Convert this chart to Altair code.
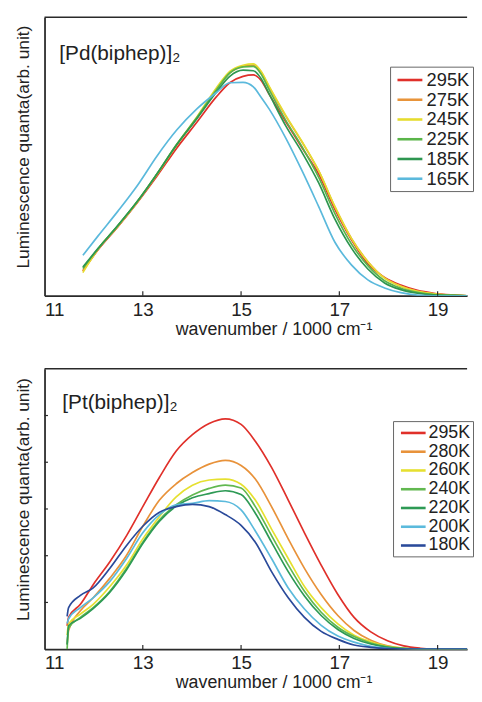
import altair as alt
import pandas as pd

# ---------------- top panel: [Pd(biphep)]2 ----------------
PD_LABELS = ["295K", "275K", "245K", "225K", "185K", "165K"]
PD_COLORS = ["#e0302a", "#e8943a", "#e6dc2e", "#5ab54a", "#2e9650", "#5bb9dc"]
PD_X = [11.78, 12.09, 12.49, 12.89, 13.29, 13.69, 14.10, 14.50, 14.77, 15.04, 15.25,
        15.40, 15.57, 15.91, 16.24, 16.58, 16.91, 17.25, 17.58, 17.92, 18.25, 18.59,
        18.92, 19.30, 19.60]
PD_295 = [9.0, 16.5, 24.7, 33.5, 43.0, 53.0, 62.3, 71.5, 76.5, 78.8, 79.3, 77.5, 72.4,
          62.5, 53.1, 43.7, 31.0, 20.0, 11.5, 6.6, 3.8, 1.9, 0.9, 0.3, 0.0]
PD_275 = [8.8, 16.6, 24.9, 33.7, 43.5, 54.0, 63.8, 74.0, 80.0, 82.4, 82.8, 80.5, 75.0,
          64.5, 55.2, 44.8, 31.9, 20.5, 12.3, 6.4, 3.4, 1.6, 0.7, 0.2, 0.0]
PD_245 = [8.3, 16.8, 25.0, 33.8, 43.7, 54.3, 64.2, 74.7, 80.6, 82.8, 83.3, 80.8, 75.3,
          64.8, 55.4, 44.9, 32.0, 20.4, 12.2, 6.3, 3.4, 1.6, 0.7, 0.2, 0.0]
PD_225 = [9.8, 16.9, 25.1, 33.9, 43.8, 54.4, 64.0, 74.0, 80.0, 82.2, 82.4, 79.8, 74.0,
          63.0, 53.5, 42.5, 29.5, 18.5, 10.8, 5.4, 2.7, 1.2, 0.4, 0.1, 0.0]
PD_185 = [10.3, 17.0, 25.2, 33.9, 43.8, 54.2, 63.6, 73.2, 78.8, 81.0, 80.8, 78.2, 72.5,
          61.0, 51.5, 40.5, 27.5, 17.0, 9.6, 4.6, 2.2, 0.9, 0.3, 0.1, 0.0]
PD_165 = [14.5, 21.5, 30.3, 39.6, 50.2, 59.5, 67.1, 73.0, 76.5, 76.6, 75.0, 71.5, 67.1,
          56.6, 44.9, 32.0, 19.2, 11.0, 5.7, 2.8, 1.1, 0.2, 0.0, 0.0, 0.0]
PD_SERIES = [PD_295, PD_275, PD_245, PD_225, PD_185, PD_165]

# ---------------- bottom panel: [Pt(biphep)]2 ----------------
PT_LABELS = ["295K", "280K", "260K", "240K", "220K", "200K", "180K"]
PT_COLORS = ["#e0302a", "#e8923a", "#e6e030", "#62b850", "#2e9a55", "#5bbadc", "#2a4a9a"]
PT_X = [11.46, 11.49, 11.73, 11.99, 12.33, 12.67, 13.00, 13.34, 13.68, 14.01, 14.35,
        14.68, 15.00, 15.29, 15.62, 15.96, 16.29, 16.63, 16.97, 17.30, 17.64, 17.98,
        18.31, 18.65, 19.00, 19.60]
PT_295 = [0.50, 0.68, 0.96, 1.38, 1.87, 2.43, 3.05, 3.68, 4.24, 4.59, 4.83, 4.93, 4.81,
          4.45, 3.89, 3.19, 2.49, 1.80, 1.17, 0.68, 0.37, 0.18, 0.07, 0.02, 0.0, 0.0]
PT_280 = [0.10, 0.40, 0.82, 1.10, 1.52, 2.01, 2.63, 3.19, 3.54, 3.78, 3.96, 4.04, 3.93,
          3.64, 3.05, 2.36, 1.73, 1.17, 0.72, 0.40, 0.19, 0.07, 0.02, 0.0, 0.0, 0.0]
PT_260 = [0.30, 0.54, 0.75, 0.96, 1.34, 1.80, 2.36, 2.84, 3.26, 3.51, 3.62, 3.64, 3.53,
          3.19, 2.57, 1.94, 1.34, 0.89, 0.54, 0.30, 0.16, 0.06, 0.02, 0.0, 0.0, 0.0]
PT_240 = [0.0, 0.45, 0.68, 0.89, 1.24, 1.73, 2.29, 2.77, 3.09, 3.30, 3.44, 3.51, 3.45,
          3.05, 2.43, 1.80, 1.24, 0.79, 0.47, 0.27, 0.13, 0.05, 0.02, 0.0, 0.0, 0.0]
PT_220 = [0.10, 0.50, 0.66, 0.87, 1.22, 1.70, 2.26, 2.74, 3.06, 3.24, 3.33, 3.39, 3.31,
          2.91, 2.29, 1.66, 1.14, 0.72, 0.42, 0.23, 0.11, 0.04, 0.01, 0.0, 0.0, 0.0]
PT_200 = [0.55, 0.65, 0.89, 1.10, 1.45, 1.94, 2.49, 2.88, 3.09, 3.12, 3.18, 3.16, 2.98,
          2.53, 1.94, 1.31, 0.86, 0.51, 0.28, 0.15, 0.06, 0.02, 0.0, 0.0, 0.0, 0.0]
PT_180 = [0.70, 0.89, 1.15, 1.31, 1.73, 2.22, 2.63, 2.93, 3.05, 3.10, 3.05, 2.88, 2.65,
          2.29, 1.66, 1.10, 0.68, 0.38, 0.21, 0.09, 0.04, 0.01, 0.0, 0.0, 0.0, 0.0]
PT_SERIES = [PT_295, PT_280, PT_260, PT_240, PT_220, PT_200, PT_180]

X_TICKS = [11, 13, 15, 17, 19]
PT_Y_TICKS = [1, 2, 3, 4, 5]
X_DOMAIN = [11, 19.60]

FONT = "Liberation Sans"
TXT = "#222222"
FRAME = "#2a2a2a"
W = 428


def long_df(xs, labels, series):
    rows = []
    for lab, ys in zip(labels, series):
        for i, (x, y) in enumerate(zip(xs, ys)):
            rows.append({"x": x, "y": y, "T": lab, "i": i})
    return pd.DataFrame(rows)


def panel(xs, labels, colors, series, ydom, height, name, name_x, name_y,
          legend_x, legend_y, leg, tick_len, y_ticks):
    df = long_df(xs, labels, series)
    xscale = alt.Scale(domain=X_DOMAIN, nice=False, zero=False)
    yscale = alt.Scale(domain=ydom, nice=False, zero=False)
    xaxis = alt.Axis(values=X_TICKS, format="d", grid=False, domain=True,
                     domainColor=FRAME, domainWidth=1.8,
                     ticks=False, tickSize=0, labelPadding=5, labelFontSize=19,
                     labelFont=FONT, labelColor=TXT,
                     title="wavenumber / 1000 cm⁻¹", titleFont=FONT,
                     titleFontSize=18, titleFontWeight="normal", titleColor=TXT,
                     titleX=232, titleY=39, titleBaseline="alphabetic",
                     titleAnchor="middle", titleAlign="center")
    yaxis = alt.Axis(labels=False, ticks=False, domain=True, domainColor=FRAME,
                     domainWidth=1.8, grid=False,
                     title="Luminescence quanta(arb. unit)", titleFont=FONT,
                     titleFontSize=17.5, titleFontWeight="normal", titleColor=TXT,
                     titlePadding=12.5, titleY=height / 2 - 10)
    lines = alt.Chart(df).mark_line(interpolate="monotone", strokeWidth=1.7, clip=True).encode(
        x=alt.X("x:Q", scale=xscale, axis=xaxis),
        y=alt.Y("y:Q", scale=yscale, axis=yaxis),
        color=alt.Color("T:N", sort=labels,
                        scale=alt.Scale(domain=labels, range=colors),
                        legend=alt.Legend(title=None, orient="none", legendX=legend_x,
                                          legendY=legend_y, symbolType=leg["path"],
                                          symbolSize=leg["size"], symbolStrokeWidth=2.6,
                                          symbolOffset=leg["soff"],
                                          labelFont=FONT, labelFontSize=leg["font"],
                                          labelColor=TXT, labelOffset=leg["loff"],
                                          rowPadding=leg["rowpad"], padding=leg["pad"],
                                          strokeColor="#666666", fillColor="white")),
        order=alt.Order("i:Q"),
    )
    xt = pd.DataFrame({"x": X_TICKS[1:], "y0": [ydom[0]] * 4, "y1": [tick_len] * 4})
    xticks = alt.Chart(xt).mark_rule(color=FRAME, strokeWidth=1.2).encode(
        x=alt.X("x:Q", scale=xscale, axis=xaxis),
        y=alt.Y("y0:Q", scale=yscale, axis=yaxis), y2="y1:Q",
    )
    border = pd.DataFrame({"x0": [X_DOMAIN[0]], "x1": [X_DOMAIN[1]], "y": [ydom[1]]})
    top_line = alt.Chart(border).mark_rule(color=FRAME, strokeWidth=1.5).encode(
        x=alt.X("x0:Q", scale=xscale, axis=xaxis), x2="x1:Q",
        y=alt.Y("y:Q", scale=yscale, axis=yaxis),
    )
    layers = [lines, xticks, top_line]
    if y_ticks:
        n = len(y_ticks)
        yt = pd.DataFrame({"y": y_ticks, "x0": [X_DOMAIN[0]] * n, "x1": [11.07] * n})
        yticks = alt.Chart(yt).mark_rule(color=FRAME, strokeWidth=1.2).encode(
            y=alt.Y("y:Q", scale=yscale, axis=yaxis),
            x=alt.X("x0:Q", scale=xscale, axis=xaxis), x2="x1:Q",
        )
        layers.append(yticks)
    label = alt.Chart(pd.DataFrame({"t": [name]})).mark_text(
        align="left", baseline="alphabetic", font=FONT, fontSize=21, color=TXT
    ).encode(text="t:N", x=alt.value(name_x), y=alt.value(name_y))
    layers.append(label)
    return alt.layer(*layers).properties(width=W, height=height)


LEG_TOP = {"path": "M-1.4,0H1.4", "size": 324, "soff": 6.6, "loff": 6.4,
           "font": 18.5, "rowpad": 0, "pad": 3}
LEG_BOT = {"path": "M-1.47,0H1.47", "size": 289, "soff": 8.5, "loff": 5.5,
           "font": 18, "rowpad": -3.1, "pad": 2}

top = panel(PD_X, PD_LABELS, PD_COLORS, PD_SERIES, [0, 100], 282,
            "[Pd(biphep)]₂", 15, 43, 350, 50, LEG_TOP, 1.6, None)
bottom = panel(PT_X, PT_LABELS, PT_COLORS, PT_SERIES, [0, 6], 284,
               "[Pt(biphep)]₂", 18, 41, 353, 53, LEG_BOT, 0.09, PT_Y_TICKS)

chart = alt.vconcat(top, bottom, spacing=30).resolve_scale(
    color="independent", x="independent", y="independent"
).resolve_legend(color="independent").properties(
    padding={"left": 6, "top": 4, "right": 0, "bottom": 0}
).configure_view(stroke=None).configure_legend(
    cornerRadius=0
)

chart.save("out.html", embed_options={"renderer": "svg", "actions": False})
